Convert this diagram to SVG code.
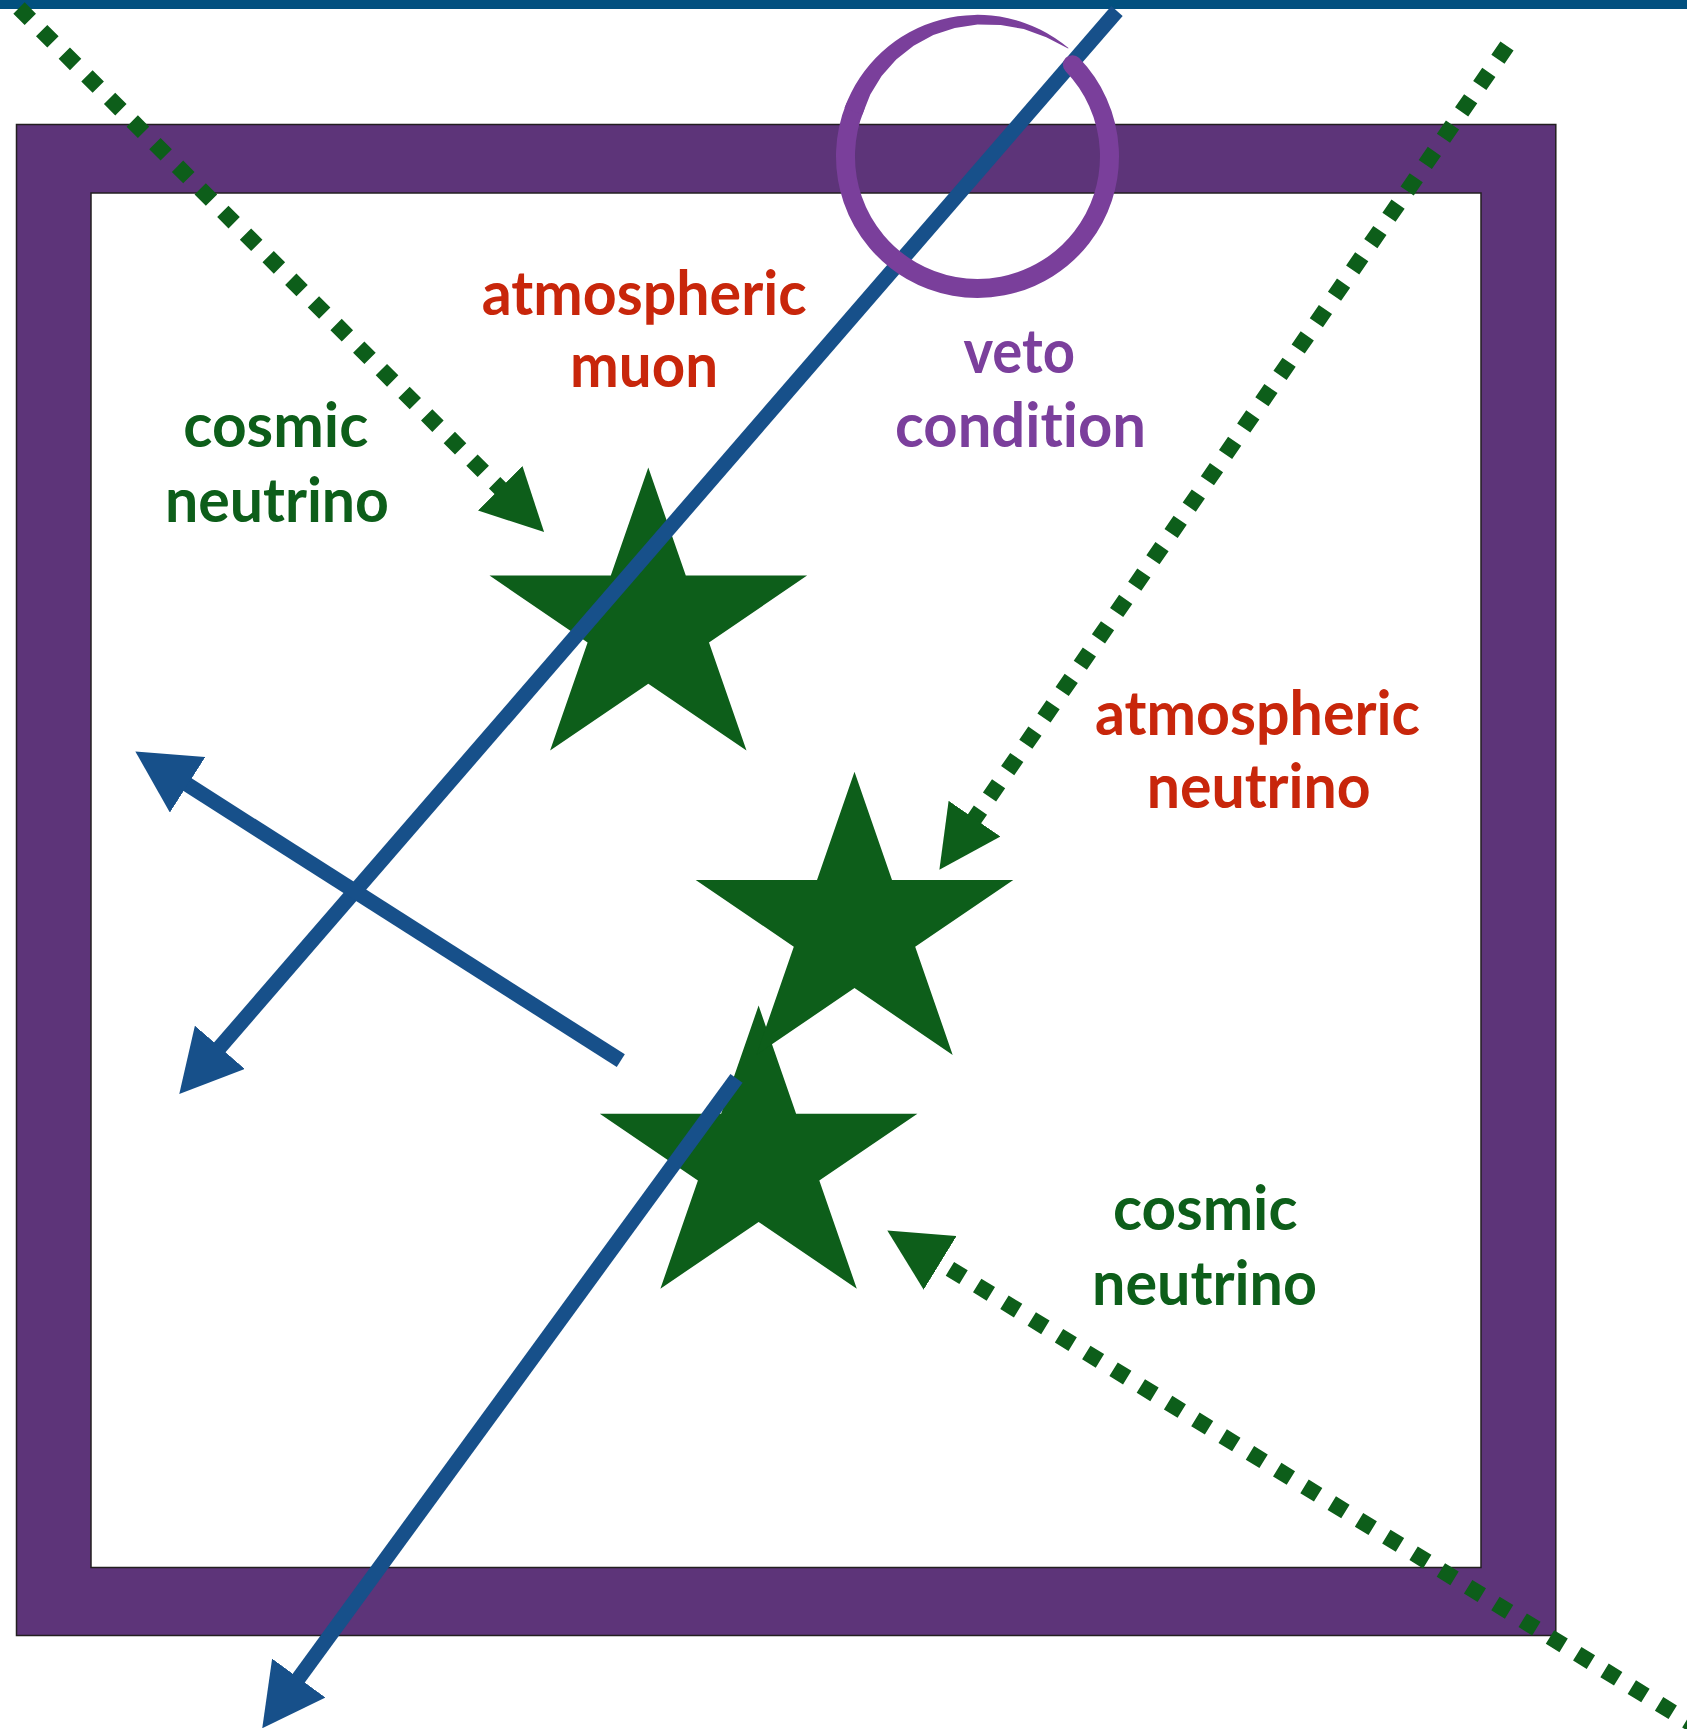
<svg xmlns="http://www.w3.org/2000/svg" width="1687" height="1729" viewBox="0 0 1687 1729">
<style>
.lbl{font-family:Lato,"Open Sans","Liberation Sans",sans-serif;font-weight:700;font-size:61px;font-variant-ligatures:none;font-feature-settings:"liga" 0,"clig" 0}
.red{fill:#C8260B}
.grn{fill:#0D5E1A}
.pur{fill:#7B3F9C}
.star{fill:#0D5E1A}
.blue{fill:none;stroke:#17508A;stroke-width:15;stroke-linecap:butt;marker-end:url(#bhead)}
.dots{fill:none;stroke:#0D5E1A;stroke-width:16;stroke-dasharray:16 16;marker-end:url(#ghead)}
.ring{fill:none;stroke:#7A3F9B}
</style>
<defs>
<path id="starShape" d="M0,-156.5 L37.5,-48.4 L158.8,-48.4 L60.7,18.5 L98.2,126.6 L0,59.8 L-98.2,126.6 L-60.7,18.5 L-158.8,-48.4 L-37.5,-48.4 Z"/>
<marker id="bhead" markerUnits="userSpaceOnUse" viewBox="0 0 62 66" markerWidth="62" markerHeight="66" refX="1" refY="33" orient="auto">
<path d="M0,0 L62,33 L0,66 Z" fill="#17508A"/>
</marker>
<marker id="ghead" markerUnits="userSpaceOnUse" viewBox="0 0 62 63" markerWidth="62" markerHeight="63" refX="1" refY="31.5" orient="auto">
<path d="M0,0 L62,31.5 L0,63 Z" fill="#0D5E1A"/>
</marker>
</defs>
<rect x="0" y="0" width="1687" height="1729" fill="#FFFFFF"/>
<rect id="topbar" x="0" y="0" width="1687" height="9" fill="#02507F"/>
<g id="detector">
<path d="M16.5,124.5 H1555.8 V1635.5 H16.5 Z M91,193 V1567.5 H1481 V193 Z" fill="#5D3479" fill-rule="evenodd" stroke="#231F20" stroke-width="1.5"/>
</g>
<g id="star3"><use href="#starShape" class="star" transform="translate(758.6,1162.1)"/></g>
<g id="star2"><use href="#starShape" class="star" transform="translate(854.5,928.3)"/></g>
<g id="star1"><use href="#starShape" class="star" transform="translate(648.3,624)"/></g>
<g id="connectors">
<path class="dots" d="M19,8 L500.9,489"/>
<path class="dots" d="M1507,46 L974,819.5"/>
<path class="dots" d="M1700,1729 L939.3,1262.3"/>
<path class="blue" d="M1117,11 L219.2,1048"/>
<path class="blue" d="M620.8,1060.7 L186.8,784.2"/>
<path class="blue" d="M736.5,1078.3 L298.2,1678.9"/>
</g>
<g id="veto-ring">
<path class="ring" stroke-width="19" stroke-linecap="round" d="M1072.4,64.7 A132,132 0 1 1 855.1,107.0"/>
<path fill="#7A3F9B" d="M844.5,108.0 A141.5,141.5 0 0 1 1068.5,48.0 L1068.1,48.4 L1046.3,37.3 L1023.8,29.1 L1000.7,24.9 L977.5,24.4 L954.8,27.9 L933.3,35.0 L913.6,45.7 L896.2,59.5 L881.6,75.9 L870.3,94.5 L862.4,114.5 Z"/>
</g>
<g id="label-atm-muon">
<text class="lbl red" x="481.7" y="314.5" textLength="325" lengthAdjust="spacingAndGlyphs">atmospheric</text>
<text class="lbl red" x="570" y="386.7" textLength="148" lengthAdjust="spacingAndGlyphs">muon</text>
</g>
<g id="label-cosmic-1">
<text class="lbl grn" x="183.3" y="446.7" textLength="185" lengthAdjust="spacingAndGlyphs">cosmic</text>
<text class="lbl grn" x="165" y="521.7" textLength="224" lengthAdjust="spacingAndGlyphs">neutrino</text>
</g>
<g id="label-veto">
<text class="lbl pur" x="963.5" y="373" textLength="111.5" lengthAdjust="spacingAndGlyphs">veto</text>
<text class="lbl pur" x="895" y="446.7" textLength="251" lengthAdjust="spacingAndGlyphs">condition</text>
</g>
<g id="label-atm-nu">
<text class="lbl red" x="1095" y="735" textLength="325" lengthAdjust="spacingAndGlyphs">atmospheric</text>
<text class="lbl red" x="1146.7" y="808.3" textLength="224" lengthAdjust="spacingAndGlyphs">neutrino</text>
</g>
<g id="label-cosmic-2">
<text class="lbl grn" x="1113" y="1230" textLength="184.5" lengthAdjust="spacingAndGlyphs">cosmic</text>
<text class="lbl grn" x="1092" y="1305" textLength="225" lengthAdjust="spacingAndGlyphs">neutrino</text>
</g>
</svg>
